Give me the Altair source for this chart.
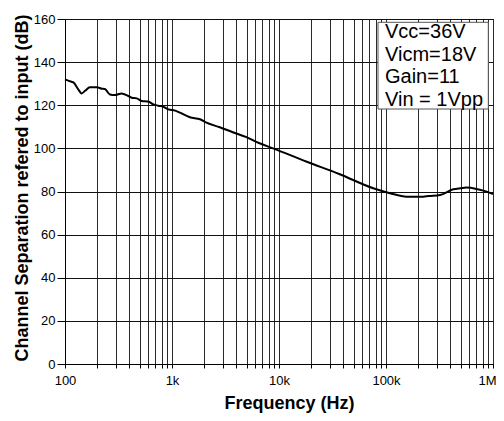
import altair as alt
import pandas as pd

# Curve data (frequency in Hz, channel separation in dB)
freq = [100, 115, 120, 133, 143, 154, 171, 198, 220, 236, 263, 293, 338, 390, 420,
        468, 520, 600, 670, 745, 830, 925, 1070, 1170, 1470, 1830, 2100, 2800,
        3700, 4900, 6400, 8800, 18200, 37000, 76000, 109000, 156000, 223000,
        250000, 320000, 425000, 500000, 565000, 700000, 812000, 1000000]
sep_db = [132.0, 130.9, 130.6, 127.4, 125.5, 126.7, 128.3, 128.3, 127.7, 127.5, 125.0,
          124.7, 125.5, 124.3, 123.5, 123.2, 122.0, 121.7, 120.4, 119.8, 119.3, 118.1,
          117.5, 116.7, 114.4, 113.5, 111.9, 109.8, 107.5, 105.3, 102.6, 100.0, 93.8,
          88.0, 81.5, 79.2, 77.6, 77.6, 77.9, 78.4, 81.0, 81.5, 81.8, 81.2, 80.4, 78.8]

x_tick_values = [m * 10 ** e for e in range(2, 6) for m in range(1, 10)] + [1000000]
decade_values = [100, 1000, 10000, 100000, 1000000]
decade_labels = ["100", "1k", "10k", "100k", "1M"]
y_tick_values = [0, 20, 40, 60, 80, 100, 120, 140, 160]
note_lines = ["Vcc=36V", "Vicm=18V", "Gain=11", "Vin = 1Vpp"]

label_expr = " : ".join(
    f"datum.value == {v} ? '{l}'" for v, l in zip(decade_values, decade_labels)
) + " : ''"

df = pd.DataFrame({"f": freq, "db": sep_db})

FONT = "Liberation Sans"

x_enc = alt.X(
    "f:Q",
    scale=alt.Scale(type="log", domain=[100, 1000000], nice=False),
    axis=alt.Axis(
        values=x_tick_values,
        labelExpr=label_expr,
        labelOverlap=False,
        labelBound=False,
        labelFlush=False,
        labelAlign={"condition": {"test": "datum.value >= 1000000", "value": "right"},
                    "value": "center"},
        labelOffset={"condition": {"test": "datum.value >= 1000000", "value": 3},
                     "value": 0},
        grid=True,
        gridColor="#2a2a2a",
        gridWidth=1,
        gridOpacity=1,
        tickSize=4,
        tickColor="#000",
        domain=True,
        domainColor="#000",
        labelFont=FONT,
        labelFontSize=13,
        labelColor="#000",
        labelPadding=6,
        title="Frequency (Hz)",
        titleFont=FONT,
        titleFontSize=18,
        titleFontWeight="bold",
        titleColor="#000",
        titleX=224,
        titleY=44,
        titleBaseline="alphabetic",
        titleAlign="center",
    ),
)

y_enc = alt.Y(
    "db:Q",
    scale=alt.Scale(domain=[0, 160], nice=False, zero=False),
    axis=alt.Axis(
        values=y_tick_values,
        grid=True,
        gridColor="#111",
        gridWidth=1,
        gridOpacity=1,
        tickSize=8,
        tickColor="#000",
        domainColor="#000",
        labelFont=FONT,
        labelFontSize=13,
        labelColor="#000",
        labelPadding=2,
        title="Channel Separation refered to input (dB)",
        titleFont=FONT,
        titleFontSize=18,
        titleFontWeight="bold",
        titleColor="#000",
        titleX=-38,
        titleY=168.5,
        titleBaseline="alphabetic",
        titleAlign="center",
    ),
)

line = alt.Chart(df).mark_line(
    color="#000", strokeWidth=2, interpolate="monotone"
).encode(x=x_enc, y=y_enc)

box = alt.Chart(pd.DataFrame({"k": [0]})).mark_rect(
    fill="white", stroke="#555", strokeWidth=1
).encode(
    x=alt.value(313), x2=alt.value(423.3), y=alt.value(3.3), y2=alt.value(90)
)

note = alt.Chart(pd.DataFrame({"k": [0]})).mark_text(
    font=FONT, fontSize=20, color="#000", align="left", baseline="alphabetic",
    lineHeight=22.5
).encode(
    x=alt.value(320), y=alt.value(19.3), text=alt.value(note_lines)
)

chart = alt.layer(line, box, note).properties(
    width=428,
    height=345,
    autosize=alt.AutoSizeParams(type="none"),
    padding={"left": 57, "top": 11, "right": 3, "bottom": 49},
).configure_view(stroke="#000", strokeWidth=1)

chart.save("out.html", embed_options={"renderer": "svg", "actions": False})
